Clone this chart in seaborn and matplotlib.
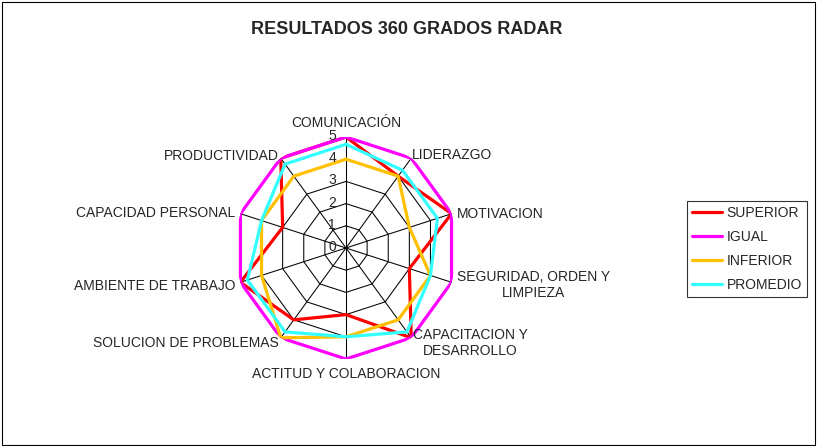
import numpy as np
import pandas as pd
import matplotlib
matplotlib.use("Agg")
import matplotlib.pyplot as plt
from matplotlib.lines import Line2D
from matplotlib.patches import Rectangle
import seaborn as sns

# datos
categorias = ["COMUNICACIÓN", "LIDERAZGO", "MOTIVACION", "SEGURIDAD, ORDEN Y\nLIMPIEZA",
              "CAPACITACION Y\nDESARROLLO", "ACTITUD Y COLABORACION", "SOLUCION DE PROBLEMAS",
              "AMBIENTE DE TRABAJO", "CAPACIDAD PERSONAL", "PRODUCTIVIDAD"]
superior = [5, 4, 5, 3, 5, 3, 4, 5, 3, 5]
igual = [5, 5, 5, 5, 5, 5, 5, 5, 5, 5]
inferior = [4, 4, 3, 4, 4, 4, 5, 4, 4, 4]
promedio = [4.67, 4.33, 4.33, 4.0, 4.67, 4.0, 4.67, 4.67, 4.0, 4.67]
series = ["SUPERIOR", "IGUAL", "INFERIOR", "PROMEDIO"]
colores = ["#FF0000", "#FF00FF", "#FFC000", "#33FFFF"]

sns.set_style("white")
plt.rcParams['font.family'] = ['Liberation Sans', 'DejaVu Sans']

n = len(categorias)
angulos = np.arange(n) * 2 * np.pi / n

# tabla larga, cada serie cerrada volviendo al primer punto (theta = 2*pi)
filas = []
for nombre, vals in zip(series, [superior, igual, inferior, promedio]):
    for i in range(n):
        filas.append({"theta": angulos[i], "valor": vals[i], "serie": nombre})
    filas.append({"theta": 2 * np.pi, "valor": vals[0], "serie": nombre})
df = pd.DataFrame(filas)

fig = plt.figure(figsize=(8.17, 4.46), dpi=100)
fig.patches.append(Rectangle((0.002, 0.003), 0.995, 0.993, transform=fig.transFigure,
                             fill=False, edgecolor="black", lw=0.8))

cx, cy, R = 346, 248, 111
ax = fig.add_axes([(cx - R) / 817, (446 - cy - R) / 446, 2 * R / 817, 2 * R / 446],
                  projection="polar")
ax.set_theta_zero_location("N")
ax.set_theta_direction(-1)
ax.set_ylim(0, 5)
ax.grid(False)
ax.spines["polar"].set_visible(False)
ax.set_xticks([])
ax.set_yticks([])
ax.patch.set_alpha(0)

# rejilla poligonal
th = np.append(angulos, 2 * np.pi)
for r in range(1, 6):
    ax.plot(th, [r] * (n + 1), color="black", lw=0.75, zorder=1)
for a in angulos:
    ax.plot([a, a], [0, 5], color="black", lw=0.75, zorder=1)

sns.lineplot(data=df, x="theta", y="valor", hue="serie", palette=dict(zip(series, colores)),
             hue_order=series, sort=False, estimator=None, lw=2.3, legend=False, ax=ax, zorder=3)
ax.set_xlabel("")
ax.set_ylabel("")
ax.set_ylim(0, 5)

# etiquetas radiales
for r in range(0, 6):
    ax.annotate(str(r), xy=(0, r), xytext=(-10, 1), textcoords="offset pixels",
                ha="right", va="center", fontsize=10)

# etiquetas de categorias
pos = [((0, 7), "center", "bottom"), ((1, 3), "left", "center"), ((5, 0), "left", "center"),
       ((5, -3), "left", "center"), ((2, -5), "left", "center"), ((0, -8), "center", "top"),
       ((-2, -5), "right", "center"), ((-5, -4), "right", "center"), ((-5, 1), "right", "center"),
       ((-2, 2), "right", "center")]
for a, cat, (off, ha, va) in zip(angulos, categorias, pos):
    ax.annotate(cat, xy=(a, 5), xytext=off, textcoords="offset pixels", ha=ha, va=va,
                multialignment="center", fontsize=10, annotation_clip=False)

fig.text(0.4975, 1 - 30 / 446, "RESULTADOS 360 GRADOS RADAR", ha="center", va="center",
         fontsize=13, fontweight="bold")

handles = [Line2D([], [], color=c, lw=2.3) for c in colores]
leg = fig.legend(handles, series, loc="center left", bbox_to_anchor=(687 / 817, (446 - 249) / 446),
                 fontsize=10, frameon=True, fancybox=False, edgecolor="black", handlelength=2.2,
                 handletextpad=0.3, labelspacing=0.72, borderpad=0.35, borderaxespad=0)
leg.get_frame().set_linewidth(0.8)

fig.savefig("out.png", dpi=100)
